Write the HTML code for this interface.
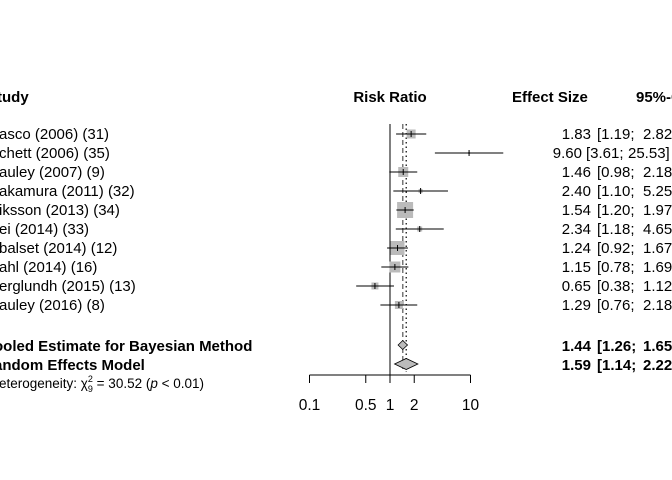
<!DOCTYPE html>
<html><head><meta charset="utf-8"><style>
html,body{margin:0;padding:0;background:#fff}
svg{display:block;font-family:"Liberation Sans",Arial,sans-serif}
</style></head><body>
<svg id="chart" width="672" height="480" viewBox="0 0 672 480">
<g id="g"></g>
</svg>
<script>
const studies = ["asco (2006) (31)","chett (2006) (35)","auley (2007) (9)","akamura (2011) (32)","iksson (2013) (34)","ei (2014) (33)","balset (2014) (12)","ahl (2014) (16)","erglundh (2015) (13)","auley (2016) (8)"];
const estimates = [1.83,9.60,1.46,2.40,1.54,2.34,1.24,1.15,0.65,1.29];
const lowers = [1.19,3.61,0.98,1.10,1.20,1.18,0.92,0.78,0.38,0.76];
const uppers = [2.82,25.53,2.18,5.25,1.97,4.65,1.67,1.69,1.12,2.18];
const weights = [9,2,10,4,16,5,14,11,7,8];
const pooledBayes = [1.44,1.26,1.65];
const pooledRE = [1.59,1.14,2.22];
const tickValues = [0.1,0.5,1,2,10];
const tickLabels = ["0.1","0.5","1","2","10"];

const NS="http://www.w3.org/2000/svg";
const g=document.getElementById('g');
const x=v=>390+Math.log10(v)*80.5;
const rowY=i=>134+i*19;
function el(tag,attrs,text){const e=document.createElementNS(NS,tag);for(const k in attrs)e.setAttribute(k,attrs[k]);if(text!==undefined)e.textContent=text;g.appendChild(e);return e;}
function fmt(v){return v.toFixed(2);}

let h;
h=el('text',{x:-13,y:102,'font-size':15,'font-weight':'bold'},'Study');

h=el('text',{x:390,y:102,'font-size':15,'font-weight':'bold','text-anchor':'middle'},'Risk Ratio');

h=el('text',{x:512,y:102,'font-size':15,'font-weight':'bold'},'Effect Size');

h=el('text',{x:636,y:102,'font-size':15,'font-weight':'bold'},'95%-CI');


let l=el('line',{x1:390,x2:390,y1:124,y2:375,stroke:'#000','stroke-width':1});

l=el('line',{x1:x(pooledBayes[0]),x2:x(pooledBayes[0]),y1:124,y2:372,stroke:'#777','stroke-width':1.5,'stroke-dasharray':'5,3'});

l=el('line',{x1:x(pooledRE[0]),x2:x(pooledRE[0]),y1:124,y2:372,stroke:'#000','stroke-width':1.2,'stroke-dasharray':'1.5,3'});


studies.forEach((s,i)=>{
  const y=rowY(i);
  const t=el('text',{x:-1,y:y+5,'font-size':15},s);
  
  const w=weights[i];
  const b=el('rect',{x:x(estimates[i])-w/2,y:y-w/2,width:w,height:w,fill:'#bbbbbb'});
  
  const ci=el('line',{x1:x(lowers[i]),x2:x(uppers[i]),y1:y,y2:y,stroke:'#000','stroke-width':1});
  
  const m=el('line',{x1:x(estimates[i]),x2:x(estimates[i]),y1:y-3,y2:y+3,stroke:'#000','stroke-width':1});
  
  const big=uppers[i]>=10;
  const e=el('text',{x:big?582:591,y:y+5,'font-size':15,'text-anchor':'end'},fmt(estimates[i]));
  
  const c1=el('text',{x:big?586:597,y:y+5,'font-size':15},'['+fmt(lowers[i])+';');
  
  const c2=el('text',{x:big?628:643,y:y+5,'font-size':15},fmt(uppers[i])+']');
  
});

function pooled(p,y,hh,label,name){
  const d=el('polygon',{points:`${x(p[1])},${y} ${x(p[0])},${y-hh} ${x(p[2])},${y} ${x(p[0])},${y+hh}`,fill:'#bbbbbb',stroke:'#000','stroke-width':0.8});
  
  const t=el('text',{x:-6,y:y+6,'font-size':15,'font-weight':'bold'},label);
  
  const e=el('text',{x:591,y:y+6,'font-size':15,'font-weight':'bold','text-anchor':'end'},fmt(p[0]));
  
  const c1=el('text',{x:597,y:y+6,'font-size':15,'font-weight':'bold'},'['+fmt(p[1])+';');
  
  const c2=el('text',{x:643,y:y+6,'font-size':15,'font-weight':'bold'},fmt(p[2])+']');
  
}
pooled(pooledBayes,345,4.5,'ooled Estimate for Bayesian Method','bayesian-pooled');
pooled(pooledRE,364,5.5,'andom Effects Model','random-effects');

const het=el('text',{x:-1,y:388,'font-size':13.5},'');

het.innerHTML='eterogeneity: χ<tspan font-size="9" dy="-6">2</tspan><tspan font-size="9" dx="-5" dy="10">9</tspan><tspan dy="-4"> = 30.52 (</tspan><tspan font-style="italic">p</tspan><tspan> &lt; 0.01)</tspan>';

const ax=el('line',{x1:x(tickValues[0]),x2:x(tickValues[tickValues.length-1]),y1:375,y2:375,stroke:'#000','stroke-width':1});

tickValues.forEach((v,i)=>{
  const tk=el('line',{x1:x(v),x2:x(v),y1:375,y2:383,stroke:'#000','stroke-width':1});
  
  const tl=el('text',{x:x(v),y:410,'font-size':15.5,'text-anchor':'middle'},tickLabels[i]);
  
});
</script>
</body></html>
